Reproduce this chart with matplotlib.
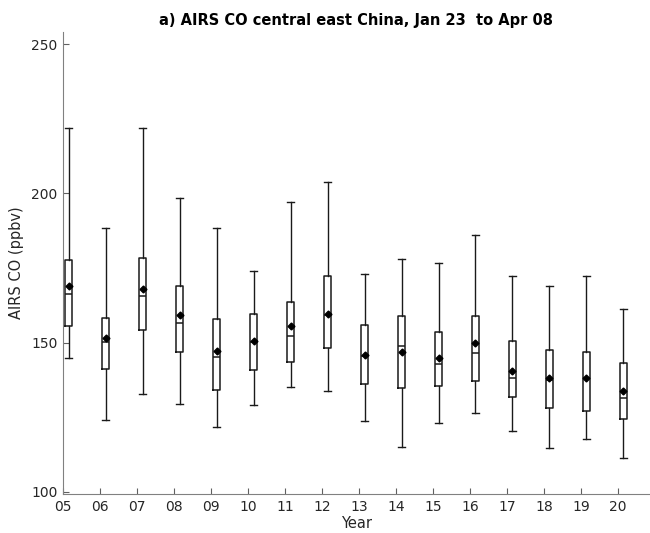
import numpy as np
import matplotlib.pyplot as plt

years = ['05', '06', '07', '08', '09', '10', '11', '12',
         '13', '14', '15', '16', '17', '18', '19', '20']

whislo = [144.8, 124.1, 132.6, 129.3, 121.6, 129.2, 135.1, 133.6,
          123.8, 114.9, 122.9, 126.3, 120.5, 114.6, 117.6, 111.4]
q1 = [155.6, 141.2, 154.1, 146.9, 134.0, 140.8, 143.6, 148.1,
      136.1, 134.8, 135.4, 137.0, 131.6, 127.9, 126.9, 124.5]
med = [166.2, 150.1, 165.7, 156.5, 145.1, 150.3, 152.2, 159.1,
       145.6, 149.0, 142.9, 146.5, 138.0, 137.3, 138.0, 131.5]
q3 = [177.5, 158.2, 178.3, 168.9, 158.0, 159.6, 163.7, 172.3,
      155.9, 158.8, 153.5, 159.0, 150.4, 147.4, 146.7, 143.3]
whishi = [221.8, 188.5, 221.8, 198.4, 188.5, 174.1, 197.2, 203.9,
          173.0, 178.1, 176.5, 186.0, 172.4, 168.8, 172.4, 161.3]
means = [168.8, 151.6, 167.9, 159.3, 147.3, 150.5, 155.4, 159.6,
         145.8, 146.7, 144.8, 149.8, 140.6, 138.2, 138.2, 133.9]

stats = []
for i in range(len(years)):
    stats.append(dict(whislo=whislo[i], q1=q1[i], med=med[i], q3=q3[i],
                      whishi=whishi[i], mean=means[i], fliers=[]))

fig = plt.figure(figsize=(6.5, 5.33), dpi=100)
ax = fig.add_axes([0.097, 0.073, 0.902, 0.867])

x = np.arange(1, len(years) + 1)
lc = '#1a1a1a'
ax.bxp(stats, positions=x + 0.15, widths=0.21, capwidths=0.18,
       showmeans=True, showfliers=False, manage_ticks=False,
       boxprops=dict(color=lc, linewidth=1.1),
       medianprops=dict(color=lc, linewidth=1.1),
       whiskerprops=dict(color=lc, linewidth=1.0),
       capprops=dict(color=lc, linewidth=1.0),
       meanprops=dict(marker='D', markersize=3.5, markerfacecolor='black',
                      markeredgecolor='black'))

ax.set_xlim(1, 16.85)
ax.set_ylim(99.2, 254.1)
ax.set_xticks(x)
ax.set_xticklabels(years)
ax.set_yticks([100, 150, 200, 250])

for s in ['top', 'right']:
    ax.spines[s].set_visible(False)
for s in ['left', 'bottom']:
    ax.spines[s].set_color('#808080')
ax.tick_params(direction='in', length=4, color='#606060',
               labelcolor='#262626', labelsize=10, pad=4)

ax.set_xlabel('Year', fontsize=10.5, color='#262626', labelpad=2)
ax.set_ylabel('AIRS CO (ppbv)', fontsize=10.5, color='#262626', labelpad=5)
ax.set_title('a) AIRS CO central east China, Jan 23  to Apr 08',
             fontsize=10.5, fontweight='bold', pad=5)

fig.savefig('out.png', dpi=100)
